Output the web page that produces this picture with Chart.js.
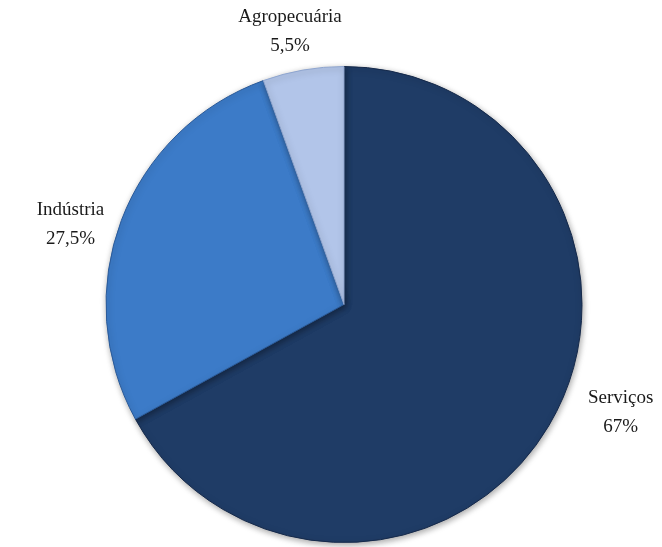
<!DOCTYPE html>
<html lang="pt">
<head>
    <meta charset="UTF-8">
    <title>Composição do PIB</title>
    <script src="https://cdn.jsdelivr.net/npm/chart.js"></script>
    <style>
        body {
            margin: 0;
            background: #fff;
        }

        .chart-container {
            position: relative;
            width: 662px;
            height: 547px;
        }
    </style>
</head>
<body>
    <div class="chart-container">
        <canvas id="pieChart"></canvas>
    </div>

    <script>
        // Data
        const sectors = ['Serviços', 'Indústria', 'Agropecuária'];
        const shares = [67, 27.5, 5.5];
        const shareLabels = ['67%', '27,5%', '5,5%'];

        const baseColors = ['#1f3c66', '#3c7bc8', '#b2c5e9'];
        const lightColors = ['#2a4b7c', '#4a89d6', '#c6d5f1'];

        // Radial gradient per slice, a little lighter towards the rim
        function sliceFill(context) {
            const chart = context.chart;
            const arc = context.element;
            if (!arc || !chart.chartArea) return baseColors[context.dataIndex];
            const { x, y, outerRadius } = arc.getProps(['x', 'y', 'outerRadius'], true);
            if (!outerRadius) return baseColors[context.dataIndex];
            const g = chart.ctx.createRadialGradient(x, y, 0, x, y, outerRadius);
            g.addColorStop(0, baseColors[context.dataIndex]);
            g.addColorStop(0.93, baseColors[context.dataIndex]);
            g.addColorStop(0.97, lightColors[context.dataIndex]);
            g.addColorStop(1, baseColors[context.dataIndex]);
            return g;
        }

        // Soft shadow under the pie
        const shadowPlugin = {
            id: 'pieShadow',
            beforeDatasetsDraw(chart) {
                const ctx = chart.ctx;
                ctx.save();
                ctx.shadowColor = 'rgba(0, 0, 0, 0.35)';
                ctx.shadowBlur = 6;
                ctx.shadowOffsetX = 1;
                ctx.shadowOffsetY = 2;
            },
            afterDatasetsDraw(chart) {
                chart.ctx.restore();
            }
        };

        // Two-line labels outside each slice
        const outsideLabels = {
            id: 'outsideLabels',
            afterDraw(chart, args, opts) {
                const ctx = chart.ctx;
                const meta = chart.getDatasetMeta(0);
                ctx.save();
                ctx.font = opts.font;
                ctx.fillStyle = '#1a1a1a';
                ctx.textAlign = 'center';
                ctx.textBaseline = 'middle';
                meta.data.forEach((arc, i) => {
                    const p = arc.getProps(['x', 'y', 'startAngle', 'endAngle', 'outerRadius'], true);
                    const mid = (p.startAngle + p.endAngle) / 2 + opts.angleShift[i] * Math.PI / 180;
                    const r = p.outerRadius + opts.distance[i];
                    const cx = p.x + Math.cos(mid) * r;
                    const cy = p.y + Math.sin(mid) * r;
                    ctx.fillText(sectors[i], cx, cy - opts.lineGap / 2);
                    ctx.fillText(shareLabels[i], cx, cy + opts.lineGap / 2);
                });
                ctx.restore();
            }
        };

        const ctx = document.getElementById('pieChart').getContext('2d');
        new Chart(ctx, {
            type: 'pie',
            data: {
                labels: sectors,
                datasets: [{
                    data: shares,
                    backgroundColor: sliceFill,
                    borderColor: ['#15294a', '#2a5a99', '#8ea5cf'],
                    borderWidth: 1,
                    hoverOffset: 0
                }]
            },
            options: {
                responsive: true,
                maintainAspectRatio: false,
                animation: false,
                layout: {
                    padding: { top: 66, bottom: 4, left: 100, right: 74 }
                },
                plugins: {
                    legend: { display: false },
                    tooltip: { enabled: false },
                    outsideLabels: {
                        font: '19px "Liberation Serif", "DejaVu Serif", serif',
                        lineGap: 29,
                        angleShift: [-9.3, -4.4, -1.3],
                        distance: [59, 47, 40]
                    }
                }
            },
            plugins: [shadowPlugin, outsideLabels]
        });
    </script>
</body>
</html>
